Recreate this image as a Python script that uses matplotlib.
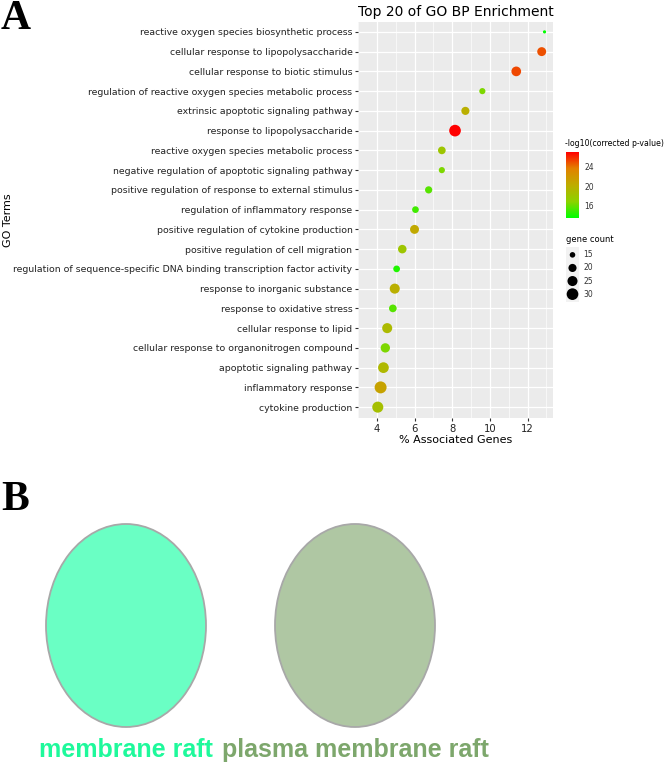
import numpy as np
import matplotlib
matplotlib.use('Agg')
import matplotlib.pyplot as plt
from matplotlib.colors import LinearSegmentedColormap
from matplotlib.patches import Ellipse

# GO BP enrichment, top 20 (top row first)
terms = [
    "reactive oxygen species biosynthetic process",
    "cellular response to lipopolysaccharide",
    "cellular response to biotic stimulus",
    "regulation of reactive oxygen species metabolic process",
    "extrinsic apoptotic signaling pathway",
    "response to lipopolysaccharide",
    "reactive oxygen species metabolic process",
    "negative regulation of apoptotic signaling pathway",
    "positive regulation of response to external stimulus",
    "regulation of inflammatory response",
    "positive regulation of cytokine production",
    "positive regulation of cell migration",
    "regulation of sequence-specific DNA binding transcription factor activity",
    "response to inorganic substance",
    "response to oxidative stress",
    "cellular response to lipid",
    "cellular response to organonitrogen compound",
    "apoptotic signaling pathway",
    "inflammatory response",
    "cytokine production",
]
pct = [12.9, 12.75, 11.4, 9.6, 8.7, 8.15, 7.45, 7.45, 6.75, 6.05,
       6.0, 5.35, 5.05, 4.95, 4.85, 4.55, 4.45, 4.35, 4.2, 4.05]
counts = [12, 22, 24, 16, 20, 30, 19, 16, 18, 17,
          22, 21, 17, 25, 19, 25, 23, 27, 31, 28]
logp = [13.4, 25.0, 25.2, 16.5, 20.0, 27.1, 18.0, 16.5, 15.5, 15.0,
        20.5, 18.0, 14.2, 20.0, 15.5, 19.0, 16.5, 19.2, 21.0, 18.5]

x_ticks = [4, 6, 8, 10, 12]
cbar_ticks = [16, 20, 24]
size_ticks = [15, 20, 25, 30]

# panel B
sets_b = ["membrane raft", "plasma membrane raft"]
fill_b = ["#6AFFC4", "#AFC7A3"]
text_b = ["#1EF99B", "#7DA76C"]

W, H = 665, 767
fig = plt.figure(figsize=(W / 100, H / 100), dpi=100)


def box(x0, y0, x1, y1):
    return [x0 / W, 1 - y1 / H, (x1 - x0) / W, (y1 - y0) / H]


def dot_size(c):
    d = np.sqrt(31 + (np.asarray(c, float) - 15) * 7.0)
    return (d * 0.72) ** 2


cmap = LinearSegmentedColormap.from_list(
    "gr", [(0, "#00FF00"), (0.25, "#8CD200"), (0.5, "#BEAC00"),
           (0.75, "#E28200"), (1, "#FF0000")])

ax = fig.add_axes(box(358, 22, 553, 418))
ax.set_facecolor("#EBEBEB")
y = np.arange(len(terms))
sc = ax.scatter(pct, y, s=dot_size(counts), c=logp, cmap=cmap,
                vmin=min(logp), vmax=max(logp), linewidths=0, zorder=3)
ax.set_xlim(3.65, 13.35)
ax.set_ylim(len(terms) - 0.45, -0.5)
ax.set_xticks(x_ticks)
ax.set_xticks([3, 5, 7, 9, 11, 13], minor=True)
ax.set_yticks(y)
ax.set_yticklabels(terms)
ax.grid(which="major", color="white", lw=0.9)
ax.grid(which="minor", axis="x", color="white", lw=0.45)
ax.set_axisbelow(True)
for s in ax.spines.values():
    s.set_visible(False)
ax.tick_params(axis="both", which="major", length=2.5, color="#333333",
               labelcolor="#222222", pad=1.5)
ax.tick_params(axis="y", labelsize=6.75)
ax.tick_params(axis="x", labelsize=7.2)
ax.tick_params(which="minor", length=0)
ax.set_xlabel("% Associated Genes", fontsize=8, labelpad=1)
ax.set_title("Top 20 of GO BP Enrichment", fontsize=10, pad=4)
fig.text(8 / W, 1 - 220 / H, "GO Terms", rotation=90, fontsize=8,
         ha="center", va="center")

# colour bar
cax = fig.add_axes(box(566, 152, 579, 218))
cb = fig.colorbar(sc, cax=cax, ticks=cbar_ticks)
cb.outline.set_visible(False)
cax.tick_params(length=2, color="white", labelsize=5.5, pad=2,
                labelcolor="#333333")
fig.text(565 / W, 1 - 143 / H, "-log10(corrected p-value)", fontsize=5.6,
         ha="left", va="center")

# size legend
fig.text(566 / W, 1 - 240 / H, "gene count", fontsize=6, ha="left", va="center")
lax = fig.add_axes(box(566, 247, 579, 302))
lax.set_facecolor("#F2F2F2")
lax.set_xlim(-0.5, 0.5)
lax.set_ylim(3.6, -0.6)
lax.scatter([0] * len(size_ticks), range(len(size_ticks)),
            s=dot_size(size_ticks), color="black", linewidths=0)
for i, v in enumerate(size_ticks):
    lax.text(0.85, i, str(v), fontsize=5.5, color="#333333",
             ha="left", va="center", clip_on=False)
lax.set_xticks([])
lax.set_yticks([])
for s in lax.spines.values():
    s.set_visible(False)

# panel B
bx = fig.add_axes([0, 0, 1, 1 - 455 / H])
bx.set_xlim(0, W)
bx.set_ylim(H, 455)
bx.axis("off")
for i, name in enumerate(sets_b):
    cx = 126 + 229 * i
    bx.add_patch(Ellipse((cx, 625.5), 160, 203, facecolor=fill_b[i],
                         edgecolor="#A8A8A8", lw=1.3))
    bx.text(cx, 757, name, color=text_b[i], fontsize=18, fontweight="bold",
            family="Liberation Sans", ha="center", va="baseline")

fig.text(1 / W, 1 - 29 / H, "A", fontsize=30, fontweight="bold",
         family="Liberation Serif", ha="left", va="baseline")
fig.text(1 / W, 1 - 510 / H, "B", fontsize=30, fontweight="bold",
         family="Liberation Serif", ha="left", va="baseline")

fig.savefig("out.png", dpi=100)
